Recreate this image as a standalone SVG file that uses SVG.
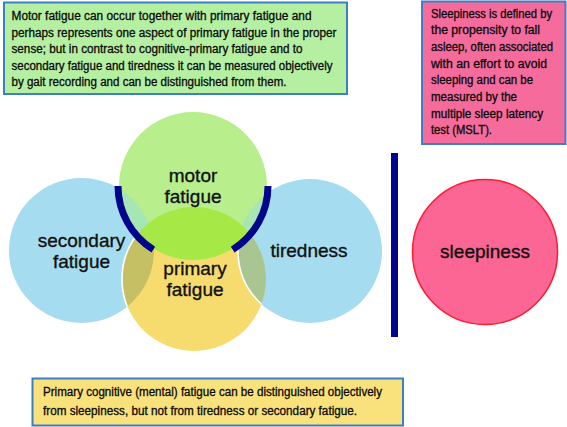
<svg xmlns="http://www.w3.org/2000/svg" width="567" height="427" viewBox="0 0 567 427">
  <style>
    .box { stroke: #3b7fc4; stroke-width: 2; }
    .bt { font-family: "Liberation Sans", Arial, sans-serif; font-size: 12px; fill: #0a0a0a; stroke: #0a0a0a; stroke-width: 0.3; }
    .lbl { font-family: "Liberation Sans", Arial, sans-serif; font-size: 19px; fill: #111; stroke: #111; stroke-width: 0.35; text-anchor: middle; }
    .navy { fill: none; stroke: #00068c; stroke-width: 7; }
    .edge { fill: none; stroke: #ffffff; stroke-width: 1.6; }
  </style>
  <defs>
    <clipPath id="cSec"><circle cx="81.5" cy="250.5" r="72.5"/></clipPath>
    <clipPath id="cTir"><circle cx="310" cy="251" r="72"/></clipPath>
    <clipPath id="cPri"><circle cx="194" cy="279" r="72"/></clipPath>
    <clipPath id="cMot"><circle cx="193" cy="186" r="74"/></clipPath>
  </defs>
  <rect width="567" height="427" fill="#ffffff"/>

  <g id="note-motor">
    <rect class="box" x="4" y="2.5" width="343" height="91.5" fill="#b5f0a2"/>
    <text class="bt" x="11.5" y="20" textLength="300" lengthAdjust="spacingAndGlyphs">Motor fatigue can occur together with primary fatigue and</text>
    <text class="bt" x="11.5" y="36.6" textLength="325" lengthAdjust="spacingAndGlyphs">perhaps represents one aspect of primary fatigue in the proper</text>
    <text class="bt" x="11.5" y="53.2" textLength="291" lengthAdjust="spacingAndGlyphs">sense; but in contrast to cognitive-primary fatigue and to</text>
    <text class="bt" x="11.5" y="69.8" textLength="321" lengthAdjust="spacingAndGlyphs">secondary fatigue and tiredness it can be measured objectively</text>
    <text class="bt" x="11.5" y="86.4" textLength="275" lengthAdjust="spacingAndGlyphs">by gait recording and can be distinguished from them.</text>
  </g>

  <g id="note-sleepiness">
    <rect class="box" x="422" y="1.5" width="143.5" height="142.5" fill="#f46b9c"/>
    <text class="bt" x="431" y="17.5" textLength="121" lengthAdjust="spacingAndGlyphs">Sleepiness is defined by</text>
    <text class="bt" x="431" y="34.2" textLength="109" lengthAdjust="spacingAndGlyphs">the propensity to fall</text>
    <text class="bt" x="431" y="50.9" textLength="122" lengthAdjust="spacingAndGlyphs">asleep, often associated</text>
    <text class="bt" x="431" y="67.6" textLength="116" lengthAdjust="spacingAndGlyphs">with an effort to avoid</text>
    <text class="bt" x="431" y="84.3" textLength="102" lengthAdjust="spacingAndGlyphs">sleeping and can be</text>
    <text class="bt" x="431" y="101" textLength="86" lengthAdjust="spacingAndGlyphs">measured by the</text>
    <text class="bt" x="431" y="117.7" textLength="112" lengthAdjust="spacingAndGlyphs">multiple sleep latency</text>
    <text class="bt" x="431" y="134.4" textLength="61" lengthAdjust="spacingAndGlyphs">test (MSLT).</text>
  </g>

  <g id="note-primary">
    <rect class="box" x="32.5" y="378.5" width="370.5" height="47" fill="#f9e27c"/>
    <text class="bt" x="43" y="396" textLength="339" lengthAdjust="spacingAndGlyphs">Primary cognitive (mental) fatigue can be distinguished objectively</text>
    <text class="bt" x="43" y="415" textLength="314" lengthAdjust="spacingAndGlyphs">from sleepiness, but not from tiredness or secondary fatigue.</text>
  </g>

  <g id="secondary-fatigue">
    <circle cx="81.5" cy="250.5" r="72.5" fill="#a5dcf0"/>
  </g>
  <g id="tiredness">
    <circle cx="310" cy="251" r="72" fill="#a5dcf0"/>
  </g>
  <g id="primary-fatigue">
    <circle cx="194" cy="279" r="72" fill="#f6dc6e"/>
    <circle cx="81.5" cy="250.5" r="72.5" fill="#c6c064" clip-path="url(#cPri)"/>
    <circle cx="310" cy="251" r="72" fill="#a9c692" clip-path="url(#cPri)"/>
    <circle cx="194" cy="279" r="72" class="edge" clip-path="url(#cSec)"/>
    <circle cx="310" cy="251" r="72" class="edge" clip-path="url(#cPri)"/>
  </g>
  <g id="motor-fatigue">
    <circle cx="193" cy="186" r="74" fill="#b8ef8c"/>
    <circle cx="81.5" cy="250.5" r="72.5" fill="#a6e6b4" clip-path="url(#cMot)"/>
    <circle cx="310" cy="251" r="72" fill="#a6e6b4" clip-path="url(#cMot)"/>
    <circle cx="194" cy="279" r="72" fill="#a6e845" clip-path="url(#cMot)"/>
  </g>
  <g id="sleepiness">
    <circle cx="485" cy="252" r="72.5" fill="#fb6694" stroke="#ff1a30" stroke-width="1.5"/>
  </g>

  <g id="connectors">
    <path class="navy" d="M118 186 A75 75 0 0 0 153.3 249.6"/>
    <path class="navy" d="M268 186 A75 75 0 0 1 232.7 249.6"/>
    <line x1="394.5" y1="153" x2="394.5" y2="337" stroke="#00068c" stroke-width="7"/>
  </g>

  <g id="labels">
    <text class="lbl" x="193" y="182">motor</text>
    <text class="lbl" x="193" y="203">fatigue</text>
    <text class="lbl" x="81.5" y="247">secondary</text>
    <text class="lbl" x="81.5" y="268">fatigue</text>
    <text class="lbl" x="309" y="257">tiredness</text>
    <text class="lbl" x="195" y="275">primary</text>
    <text class="lbl" x="195" y="296">fatigue</text>
    <text class="lbl" x="485" y="258">sleepiness</text>
  </g>
</svg>
